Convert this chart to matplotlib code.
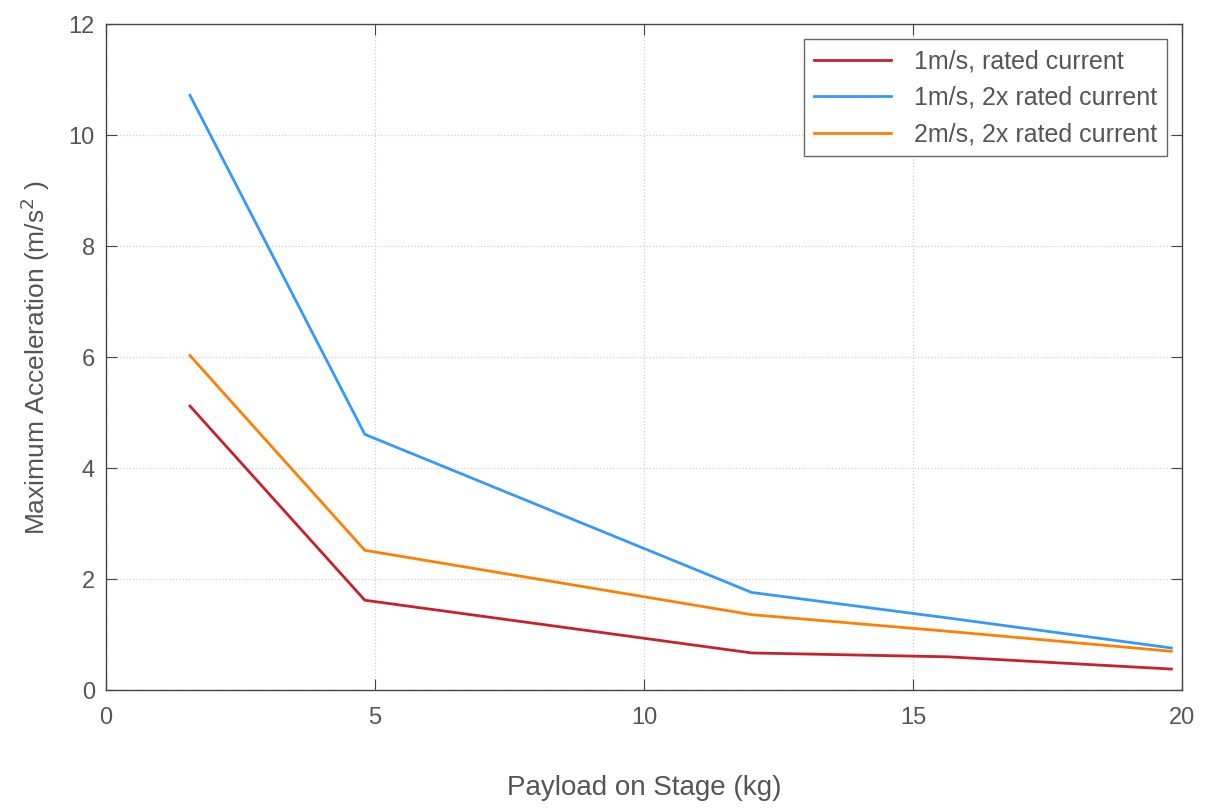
import matplotlib.pyplot as plt

# payload (kg) and max acceleration (m/s^2)
payload = [1.56, 4.81, 12.0, 15.65, 19.8]
acc_1ms_rated = [5.12, 1.62, 0.67, 0.60, 0.38]
acc_1ms_2x = [10.72, 4.61, 1.76, 1.30, 0.76]
acc_2ms_2x = [6.03, 2.52, 1.36, 1.06, 0.70]

labels = ["1m/s, rated current", "1m/s, 2x rated current", "2m/s, 2x rated current"]
colors = ["#C8202C", "#3399FF", "#FF8000"]

plt.rcParams['font.family'] = ['Liberation Sans', 'DejaVu Sans']
txt = "#555555"

fig = plt.figure(figsize=(12.05, 8.1), dpi=100)
ax = fig.add_axes([0.088, 0.148, 0.893, 0.822])

for y, lab, c in zip([acc_1ms_rated, acc_1ms_2x, acc_2ms_2x], labels, colors):
    ax.plot(payload, y, color=c, lw=2.0, label=lab)

ax.set_xlim(0, 20)
ax.set_ylim(0, 12)
ax.set_xticks([0, 5, 10, 15, 20])
ax.set_yticks([0, 2, 4, 6, 8, 10, 12])
ax.grid(True, color="#cfcfcf", linestyle=":", linewidth=0.9)
ax.tick_params(direction="in", length=8, colors="#444444", labelcolor=txt,
               labelsize=17, top=True, right=True)
ax.tick_params(axis="x", pad=12)
ax.tick_params(axis="y", pad=8)
for s in ax.spines.values():
    s.set_color("#444444")
    s.set_linewidth(1.0)

ax.set_xlabel("Payload on Stage (kg)", fontsize=20, color=txt, labelpad=33)
ax.set_ylabel("Maximum Acceleration (m/s$^2$ )", fontsize=19, color=txt, labelpad=12)

leg = ax.legend(loc="upper right", fontsize=18, fancybox=False, framealpha=1,
                edgecolor="#666666", borderaxespad=0.6, handlelength=3.1,
                labelspacing=0.5, handletextpad=0.9)
for t in leg.get_texts():
    t.set_color(txt)

fig.savefig("out.png", dpi=100)
